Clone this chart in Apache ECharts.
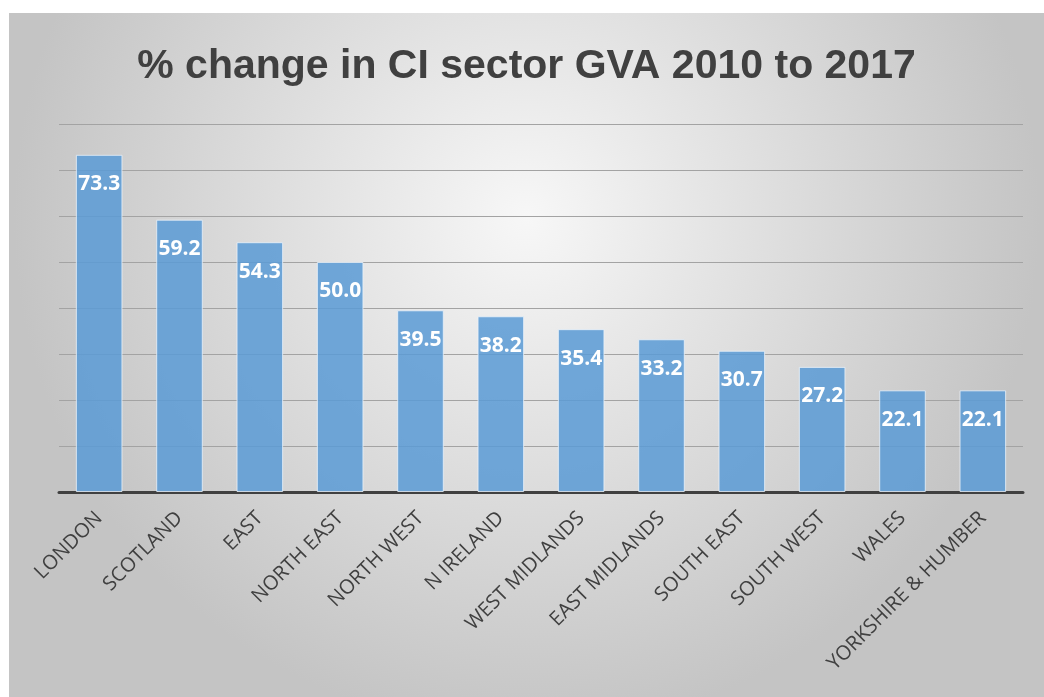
<!DOCTYPE html>
<html>
<head>
<meta charset="utf-8">
<script src="https://cdn.jsdelivr.net/npm/echarts@6/dist/echarts.min.js"></script>
<style>
  html, body { margin: 0; padding: 0; background: #fff; }
  #chart { position: absolute; left: 9px; top: 13px; width: 1035px; height: 684px; }
</style>
</head>
<body>
<div id="chart"></div>
<script>
const regions = ['LONDON', 'SCOTLAND', 'EAST', 'NORTH EAST', 'NORTH WEST', 'N IRELAND',
  'WEST MIDLANDS', 'EAST MIDLANDS', 'SOUTH EAST', 'SOUTH WEST', 'WALES', 'YORKSHIRE & HUMBER'];
const gvaChange = [73.3, 59.2, 54.3, 50.0, 39.5, 38.2, 35.4, 33.2, 30.7, 27.2, 22.1, 22.1];

const chart = echarts.init(document.getElementById('chart'));

const option = {
  backgroundColor: new echarts.graphic.RadialGradient(0.5, 0.3, 0.75, [
    { offset: 0, color: '#f7f7f7' },
    { offset: 1, color: '#c4c4c4' }
  ]),
  title: {
    text: '% change in CI sector GVA 2010 to 2017',
    left: 'center',
    top: 28,
    textStyle: {
      fontFamily: 'Liberation Sans, sans-serif',
      fontWeight: 'bold',
      fontSize: 41,
      color: '#404040'
    }
  },
  grid: {
    left: 50,
    right: 21,
    top: 111,
    bottom: 205
  },
  xAxis: {
    type: 'category',
    data: regions,
    axisLine: { lineStyle: { color: '#404040', width: 3 } },
    axisTick: { show: false },
    axisLabel: {
      rotate: 45,
      interval: 0,
      margin: 23,
      fontSize: 20,
      color: '#404040',
      fontFamily: 'Open Sans, sans-serif'
    }
  },
  yAxis: {
    type: 'value',
    min: 0,
    max: 80,
    interval: 10,
    axisLabel: { show: false },
    axisLine: { show: false },
    axisTick: { show: false },
    splitLine: { lineStyle: { color: '#a3a3a3', width: 1 } }
  },
  series: [
    {
      name: 'GVA change',
      type: 'bar',
      data: gvaChange,
      barWidth: '58%',
      itemStyle: {
        color: 'rgba(91,155,213,0.86)',
        borderColor: 'rgba(235,242,250,0.8)',
        borderWidth: 1
      },
      label: {
        show: true,
        position: 'insideTop',
        distance: 19,
        formatter: (p) => p.value.toFixed(1),
        color: '#fff',
        fontWeight: 'bold',
        fontSize: 21,
        fontFamily: 'Open Sans, sans-serif'
      }
    }
  ]
};

chart.setOption(option);
</script>
</body>
</html>
